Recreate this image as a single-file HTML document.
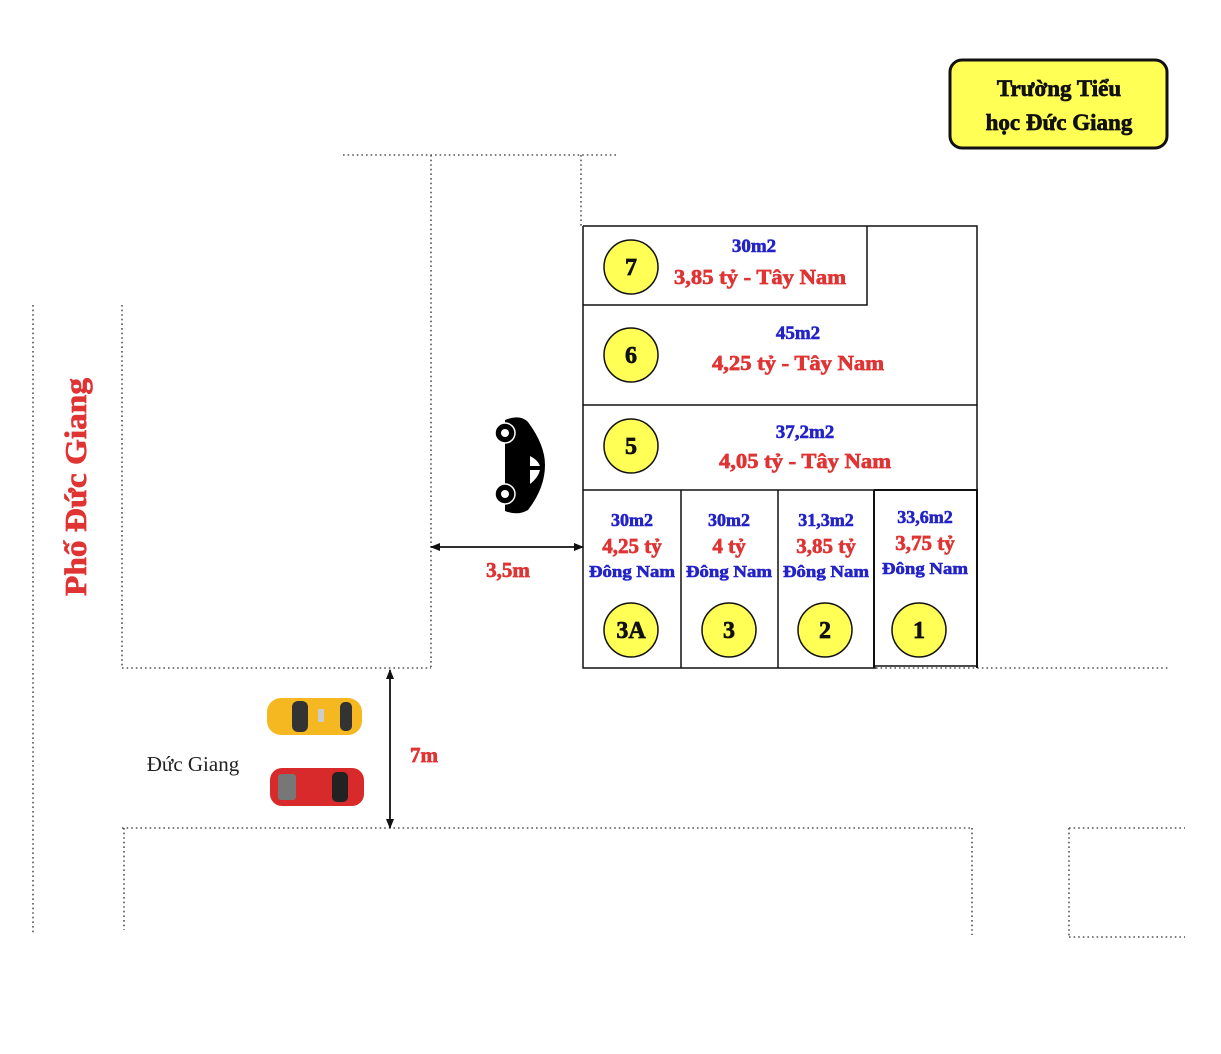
<!DOCTYPE html>
<html><head><meta charset="utf-8"><style>
html,body{margin:0;padding:0;background:#fff;width:1221px;height:1054px;overflow:hidden}
svg{display:block}
text{font-family:"Liberation Serif","Times New Roman",serif;font-weight:700}
.b{fill:#2323c8;stroke:#2323c8;stroke-width:0.6}
.r{fill:#e03434;stroke:#e03434;stroke-width:0.7}
.k{fill:#111;stroke:#111;stroke-width:0.7}
</style></head><body>
<svg width="1221" height="1054" viewBox="0 0 1221 1054">
<defs>
<marker id="ah" markerWidth="10" markerHeight="10" refX="9" refY="5" orient="auto-start-reverse" markerUnits="userSpaceOnUse"><path d="M0,1 L10,5 L0,9 Z" fill="#111"/></marker>
</defs>
<g stroke="#555" stroke-width="1.6" stroke-dasharray="1.6 3" fill="none">
<path d="M343 155 H617 M431 155 V668 M581 155 V226"/>
<path d="M33 305 V935 M122 305 V668 M122 668 H431"/>
<path d="M876 668 H1170"/>
<path d="M122 828 H972 M124 828 V930 M972 828 V935"/>
<path d="M1069 828 H1185 M1069 828 V937 M1069 937 H1185"/>
</g>
<g stroke="#111" stroke-width="1.5" fill="none">
<path d="M583 226 H977 V490 M583 226 V668 H876"/>
<path d="M583 305 H867 V226"/>
<path d="M583 405 H977"/>
<path d="M583 490 H977"/>
<path d="M681 490 V668 M778 490 V668"/>
<path d="M874 490 V668 M874 490 H977 V668" stroke-width="2"/>
<path d="M874 666 H977" stroke-width="1.5"/>
</g>
<g fill="#ffff55" stroke="#111" stroke-width="1.5">
<circle cx="631" cy="267" r="27"/>
<circle cx="631" cy="355" r="27"/>
<circle cx="631" cy="446" r="27"/>
<circle cx="631" cy="630" r="27"/>
<circle cx="729" cy="630" r="27"/>
<circle cx="825" cy="630" r="27"/>
<circle cx="919" cy="630" r="27"/>
</g>
<g font-size="24" text-anchor="middle" class="k">
<text x="631" y="275" class="k">7</text>
<text x="631" y="363" class="k">6</text>
<text x="631" y="454" class="k">5</text>
<text x="631" y="638" class="k">3A</text>
<text x="729" y="638" class="k">3</text>
<text x="825" y="638" class="k">2</text>
<text x="919" y="638" class="k">1</text>
</g>
<g text-anchor="middle">
<text x="754" y="252" font-size="19" class="b">30m2</text>
<text x="760" y="284" font-size="21" class="r" textLength="172" lengthAdjust="spacingAndGlyphs">3,85 tỷ - Tây Nam</text>
<text x="798" y="339" font-size="19" class="b">45m2</text>
<text x="798" y="370" font-size="21" class="r" textLength="172" lengthAdjust="spacingAndGlyphs">4,25 tỷ - Tây Nam</text>
<text x="805" y="438" font-size="19" class="b">37,2m2</text>
<text x="805" y="468" font-size="21" class="r" textLength="172" lengthAdjust="spacingAndGlyphs">4,05 tỷ - Tây Nam</text>
<text x="632" y="526" font-size="18" class="b">30m2</text>
<text x="632" y="553" font-size="21" class="r">4,25 tỷ</text>
<text x="632" y="577" font-size="17" class="b" textLength="86" lengthAdjust="spacingAndGlyphs">Đông Nam</text>
<text x="729" y="526" font-size="18" class="b">30m2</text>
<text x="729" y="553" font-size="21" class="r">4 tỷ</text>
<text x="729" y="577" font-size="17" class="b" textLength="86" lengthAdjust="spacingAndGlyphs">Đông Nam</text>
<text x="826" y="526" font-size="18" class="b">31,3m2</text>
<text x="826" y="553" font-size="21" class="r">3,85 tỷ</text>
<text x="826" y="577" font-size="17" class="b" textLength="86" lengthAdjust="spacingAndGlyphs">Đông Nam</text>
<text x="925" y="523" font-size="18" class="b">33,6m2</text>
<text x="925" y="550" font-size="21" class="r">3,75 tỷ</text>
<text x="925" y="574" font-size="17" class="b" textLength="86" lengthAdjust="spacingAndGlyphs">Đông Nam</text>
<text x="508" y="577" font-size="21" class="r">3,5m</text>
<text x="424" y="762" font-size="21" class="r">7m</text>
</g>
<text transform="translate(86 487) rotate(-90)" font-size="31" text-anchor="middle" class="r" textLength="218" lengthAdjust="spacingAndGlyphs">Phố Đức Giang</text>
<text x="193" y="771" font-size="21" text-anchor="middle" style="font-weight:normal" fill="#222">Đức Giang</text>
<line x1="431" y1="547" x2="583" y2="547" stroke="#111" stroke-width="1.8" marker-start="url(#ah)" marker-end="url(#ah)"/>
<line x1="390" y1="670" x2="390" y2="828" stroke="#111" stroke-width="1.8" marker-start="url(#ah)" marker-end="url(#ah)"/>
<rect x="950" y="60" width="217" height="88" rx="12" fill="#ffff55" stroke="#111" stroke-width="3"/>
<text x="1059" y="96" font-size="23" text-anchor="middle" class="k">Trường Tiểu</text>
<text x="1059" y="130" font-size="23" text-anchor="middle" class="k">học Đức Giang</text>
<g>
<path d="M505 420 Q520 414 528 422 Q545 445 545 465 Q545 488 528 510 Q518 516 505 511 Z" fill="#000"/>
<path d="M530 456 Q538 460 540 466 L530 466 Z M530 470 L540 470 Q538 478 530 484 Z" fill="#fff"/>
<circle cx="505" cy="433" r="10" fill="#000" stroke="#fff" stroke-width="1.5"/>
<circle cx="505" cy="433" r="4" fill="#fff"/>
<circle cx="505" cy="494" r="10" fill="#000" stroke="#fff" stroke-width="1.5"/>
<circle cx="505" cy="494" r="4" fill="#fff"/>
</g>
<g>
<rect x="267" y="698" width="95" height="37" rx="14" fill="#f5b820"/>
<rect x="292" y="701" width="16" height="31" rx="6" fill="#333"/>
<rect x="340" y="702" width="12" height="29" rx="5" fill="#333"/>
<rect x="318" y="709" width="6" height="13" fill="#ccc"/>
</g>
<g>
<rect x="270" y="768" width="94" height="38" rx="12" fill="#d82a2a"/>
<rect x="278" y="774" width="18" height="26" rx="3" fill="#777"/>
<rect x="332" y="772" width="16" height="30" rx="5" fill="#222"/>
</g>
</svg>
</body></html>
